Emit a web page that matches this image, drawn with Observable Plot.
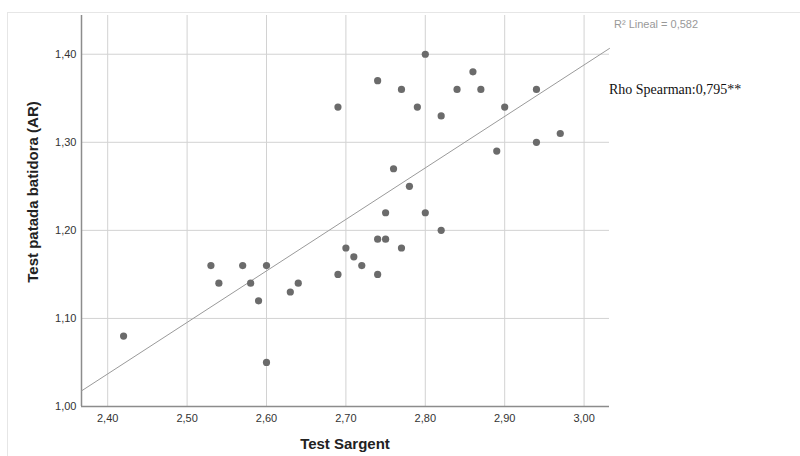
<!DOCTYPE html>
<html><head><meta charset="utf-8">
<script src="https://cdn.jsdelivr.net/npm/d3@7"></script>
<script src="https://cdn.jsdelivr.net/npm/@observablehq/plot@0.6"></script>
<style>
body{margin:0;background:#fff;}
#wrap{position:relative;width:800px;height:456px;overflow:hidden;}
#frame{position:absolute;left:7px;top:12px;width:900px;height:600px;border-top:1px solid #e6e6e6;border-left:1px solid #e6e6e6;}
#chart{position:absolute;left:0;top:0;}
</style></head><body><div id="wrap"><div id="frame"></div><div id="chart"></div></div>
<script>
const sargent = [2.42, 2.53, 2.54, 2.57, 2.58, 2.59, 2.60, 2.60, 2.63, 2.64,
                 2.69, 2.69, 2.70, 2.71, 2.72, 2.74, 2.74, 2.75, 2.74, 2.75,
                 2.76, 2.77, 2.77, 2.78, 2.79, 2.80, 2.80, 2.82, 2.82, 2.84,
                 2.86, 2.87, 2.89, 2.90, 2.94, 2.94, 2.97];
const patada  = [1.08, 1.16, 1.14, 1.16, 1.14, 1.12, 1.16, 1.05, 1.13, 1.14,
                 1.15, 1.34, 1.18, 1.17, 1.16, 1.15, 1.19, 1.19, 1.37, 1.22,
                 1.27, 1.36, 1.18, 1.25, 1.34, 1.40, 1.22, 1.33, 1.20, 1.36,
                 1.38, 1.36, 1.29, 1.34, 1.36, 1.30, 1.31];
const xTicks = [2.40, 2.50, 2.60, 2.70, 2.80, 2.90, 3.00];
const yTicks = [1.00, 1.10, 1.20, 1.30, 1.40];
const xDomain = [2.367, 3.032];
const yDomain = [1.00, 1.444];
const xTitle = "Test Sargent";
const yTitle = "Test patada batidora (AR)";
const r2Label = "R² Lineal = 0,582";
const rhoLabel = "Rho Spearman:0,795**";

const data = sargent.map((x, i) => ({x, y: patada[i]}));
const mx = d3.mean(sargent), my = d3.mean(patada);
const slope = d3.sum(data, d => (d.x - mx) * (d.y - my)) / d3.sum(data, d => (d.x - mx) ** 2);
const intercept = my - slope * mx;
const fitLine = xDomain.map(x => ({x, y: intercept + slope * x}));

const fmt = d => d.toFixed(2).replace(".", ",");
const sans = "'Liberation Sans', Arial, sans-serif";

const chart = Plot.plot({
  width: 800, height: 456,
  marginLeft: 81, marginTop: 15, marginRight: 191, marginBottom: 50,
  style: {fontFamily: sans, fontSize: "11px", color: "#333", background: "transparent"},
  x: {domain: xDomain, ticks: xTicks, tickFormat: fmt, label: null},
  y: {domain: yDomain, ticks: yTicks, tickFormat: fmt, label: null},
  marks: [
    Plot.gridX(xTicks, {stroke: "#d2d2d2", strokeOpacity: 1, strokeWidth: 1}),
    Plot.gridY(yTicks, {stroke: "#d2d2d2", strokeOpacity: 1, strokeWidth: 1}),
    Plot.ruleX([xDomain[0]], {stroke: "#8c8c8c", strokeWidth: 1.5}),
    Plot.ruleY([yDomain[0]], {stroke: "#8c8c8c", strokeWidth: 1.5}),
    Plot.line(fitLine, {x: "x", y: "y", stroke: "#9a9a9a", strokeWidth: 1}),
    Plot.dot(data, {x: "x", y: "y", r: 3.6, fill: "#6b6b6b", stroke: "none"}),
    Plot.axisX(xTicks, {tickSize: 0, tickPadding: 8, tickFormat: fmt, label: null, fill: "#333"}),
    Plot.axisY(yTicks, {tickSize: 0, tickPadding: 5, tickFormat: fmt, label: null, fill: "#333"})
  ]
});
document.getElementById("chart").appendChild(chart);

const svg = d3.select(chart);
svg.append("text").attr("x", 345).attr("y", 449).attr("text-anchor", "middle")
  .attr("font-family", sans).attr("font-weight", "bold").attr("font-size", 15).attr("fill", "#222")
  .text(xTitle);
svg.append("text").attr("transform", "translate(38,192) rotate(-90)").attr("text-anchor", "middle")
  .attr("font-family", sans).attr("font-weight", "bold").attr("font-size", 15).attr("fill", "#222")
  .text(yTitle);
svg.append("text").attr("x", 614).attr("y", 28).attr("text-anchor", "start")
  .attr("font-family", sans).attr("font-size", 11).attr("fill", "#999")
  .text(r2Label);
svg.append("text").attr("x", 609).attr("y", 94).attr("text-anchor", "start")
  .attr("font-family", "'Liberation Serif', 'Times New Roman', serif").attr("font-size", 14).attr("fill", "#111")
  .text(rhoLabel);
</script></body></html>
